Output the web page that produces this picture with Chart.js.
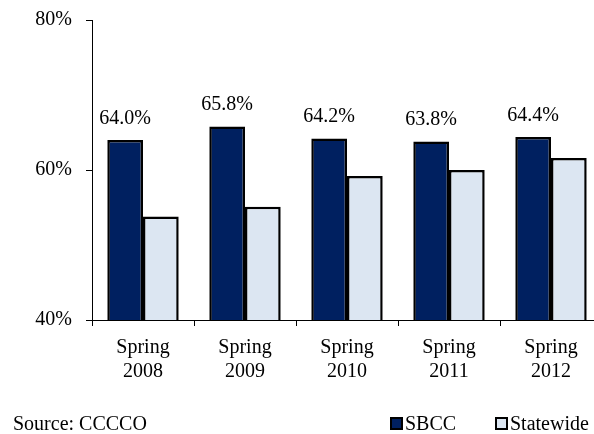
<!DOCTYPE html>
<html>
<head>
<meta charset="utf-8">
<script src="https://cdn.jsdelivr.net/npm/chart.js@4/dist/chart.umd.min.js"></script>
<style>
  html, body { margin: 0; padding: 0; background: #fff; overflow: hidden; }
  #wrap { position: relative; width: 604px; height: 434px; }
</style>
</head>
<body>
<div id="wrap"><canvas id="c"></canvas></div>
<script>
const categories = [["Spring", "2008"], ["Spring", "2009"], ["Spring", "2010"], ["Spring", "2011"], ["Spring", "2012"]];
const sbcc = [64.0, 65.8, 64.2, 63.8, 64.4];
const statewide = [53.8, 55.1, 59.2, 60.0, 61.6];
const seriesNames = ["SBCC", "Statewide"];
const sourceText = "Source: CCCCO";
const yTicks = [40, 60, 80];

const FONT = "'Liberation Serif', 'Times New Roman', serif";

const extras = {
  id: 'extras',
  afterDatasetsDraw(chart) {
    const ctx = chart.ctx;
    ctx.save();
    ctx.font = "20px " + FONT;
    ctx.fillStyle = "#000";
    ctx.textAlign = "center";
    ctx.textBaseline = "alphabetic";
    const meta = chart.getDatasetMeta(0);
    meta.data.forEach((el, i) => {
      ctx.fillText(sbcc[i].toFixed(1) + "%", el.x, el.y - 16.5);
    });
    ctx.restore();
  },
  afterDraw(chart) {
    const ctx = chart.ctx;
    ctx.save();
    ctx.font = "20px " + FONT;
    ctx.fillStyle = "#000";
    ctx.textAlign = "left";
    ctx.textBaseline = "alphabetic";
    ctx.fillText(sourceText, 13, 430);
    const items = [{x: 391, tx: 405}, {x: 496, tx: 510}];
    chart.data.datasets.forEach((ds, i) => {
      const it = items[i];
      ctx.fillStyle = ds.backgroundColor;
      ctx.fillRect(it.x, 418, 11, 11);
      ctx.lineWidth = 2;
      ctx.strokeStyle = "#000";
      ctx.strokeRect(it.x, 418, 11, 11);
      ctx.fillStyle = "#000";
      ctx.fillText(ds.label, it.tx, 430);
    });
    ctx.restore();
  }
};

new Chart(document.getElementById('c'), {
  type: 'bar',
  data: {
    labels: categories,
    datasets: [
      { label: seriesNames[0], data: sbcc, backgroundColor: '#002060', borderColor: '#000', borderWidth: 2.5, borderSkipped: false },
      { label: seriesNames[1], data: statewide, backgroundColor: '#dce6f2', borderColor: '#000', borderWidth: 2.5, borderSkipped: false }
    ]
  },
  options: {
    responsive: true,
    maintainAspectRatio: false,
    animation: false,
    events: [],
    layout: { padding: { top: 20, right: 2, left: 0, bottom: 0 } },
    datasets: { bar: { barPercentage: 1.0, categoryPercentage: 0.7 } },
    plugins: { legend: { display: false }, tooltip: { enabled: false }, title: { display: false } },
    scales: {
      x: {
        grid: { display: true, drawOnChartArea: false, drawTicks: true, tickLength: 6, color: '#000', offset: true },
        border: { display: true, color: '#000', width: 1 },
        ticks: { color: '#000', font: { family: FONT, size: 20, lineHeight: 1.2 }, padding: 10, maxRotation: 0, autoSkip: false },
        afterFit(s) { s.height = 114; s.paddingLeft = 0; s.paddingRight = 0; }
      },
      y: {
        min: 40, max: 80,
        afterBuildTicks(s) { s.ticks = yTicks.map(v => ({ value: v })); },
        grid: { display: true, drawOnChartArea: false, drawTicks: true, tickLength: 6, color: '#000' },
        border: { display: true, color: '#000', width: 1 },
        ticks: { color: '#000', font: { family: FONT, size: 20 }, padding: 14, callback: v => v + '%' },
        afterFit(s) { s.width = 92; s.paddingTop = 0; s.paddingBottom = 0; }
      }
    }
  },
  plugins: [extras]
});
</script>
</body>
</html>
